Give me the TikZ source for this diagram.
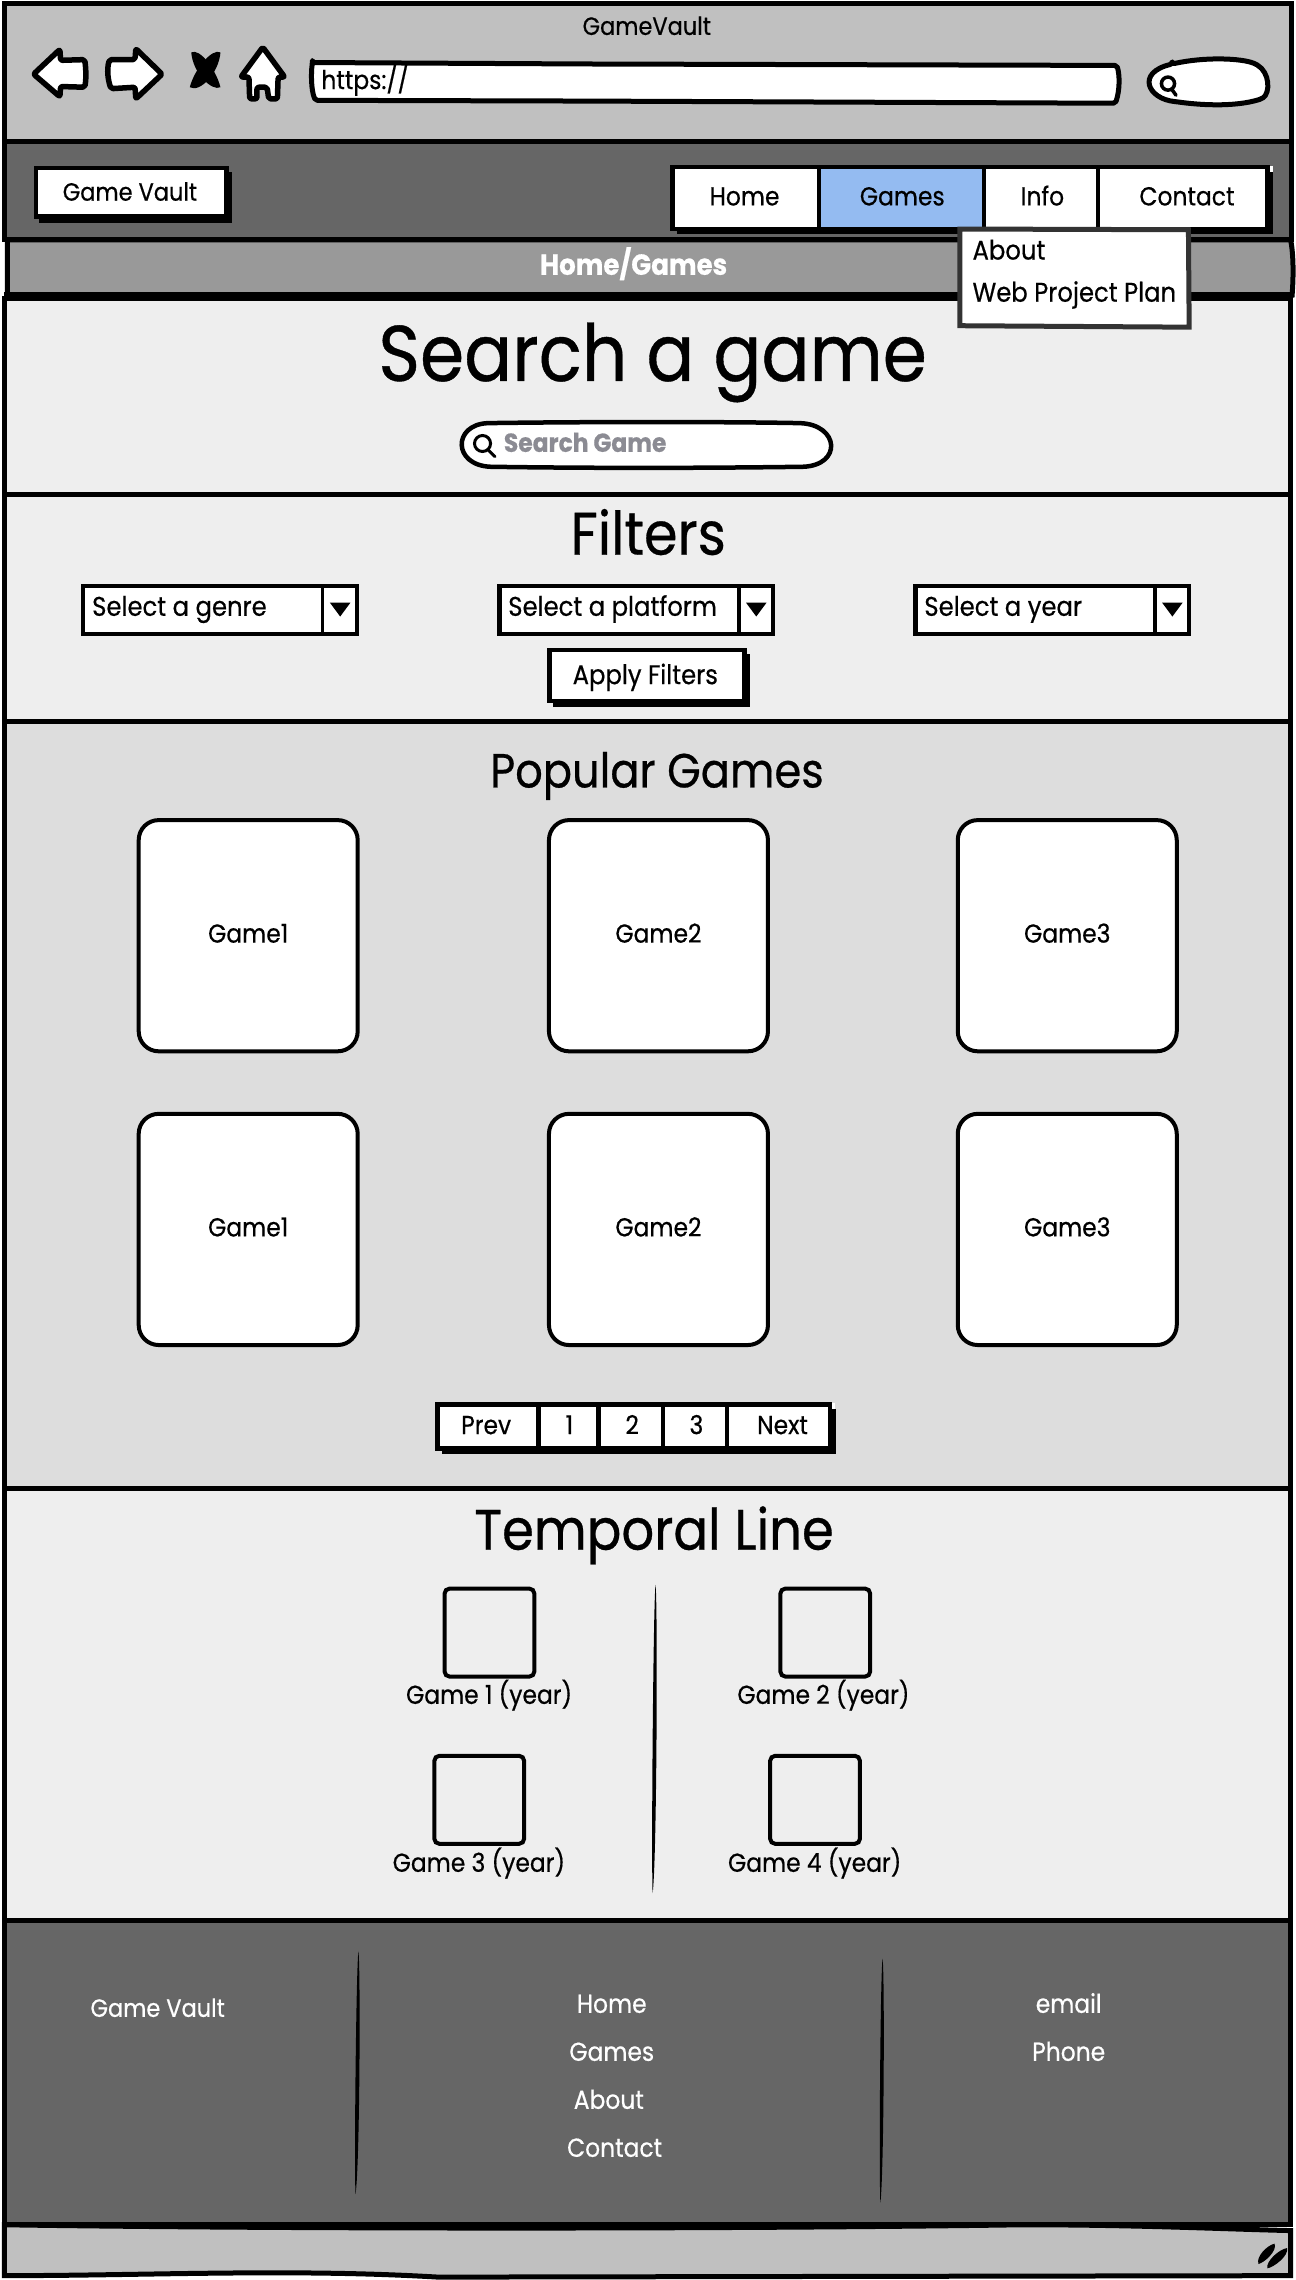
\documentclass[tikz,border=0pt]{standalone}
\usepackage{fontspec}
\setmainfont[FakeStretch=0.9,FakeBold=0.5]{Poppins}
\newcommand{\fsz}[1]{\fontsize{#1}{#1}\selectfont}
\definecolor{chrome}{HTML}{C0C0C0}
\definecolor{dark}{HTML}{666666}
\definecolor{crumb}{HTML}{999999}
\definecolor{pale}{HTML}{EEEEEE}
\definecolor{mid}{HTML}{DDDDDD}
\definecolor{sel}{HTML}{94BBF1}
\definecolor{ph}{HTML}{8B8B93}
\definecolor{menuedge}{HTML}{333333}
\tikzset{
  panel/.style={draw=black,line width=5pt},
  uibox/.style={draw=black,fill=white,line width=4.5pt},
  cardbox/.style={draw=black,fill=white,line width=4pt,rounded corners=20pt},
  thumb/.style={draw=black,fill=none,line width=4pt,rounded corners=5pt},
  ico/.style={draw=black,fill=white,line width=5.5pt,line join=round,rounded corners=2pt},
  size/.style={font=\fsz{#1},text height=0.7*#1 pt,text depth=0pt},
  txt/.style={inner sep=0pt,text=black,size=26},
  wtxt/.style={txt,text=white},
  lefttxt/.style={txt,anchor=west},
}
\begin{document}
\begin{tikzpicture}[x=1.46pt,y=-1.4541pt]
\useasboundingbox (0,0) rectangle (887,1568);
\fill[white] (0,0) rectangle (887,1568);
% panels
\path[panel,fill=chrome] (3,2.5) rectangle (884.5,97);
\path[panel,fill=dark] (3,97) rectangle (884.5,164.5);
\path[panel,fill=crumb] (5,165) -- (884,165) .. controls (886,175) and (886,190) .. (885,203) -- (5,203) -- cycle;
\path[panel,fill=pale] (3,205) rectangle (884,340);
\draw[black,line width=5.5pt] (3,203) -- (884,203);
\path[panel,fill=pale] (3,340) rectangle (884,496.5);
\path[panel,fill=mid] (3,496.5) rectangle (884,1023.5);
\path[panel,fill=pale] (3,1023.5) rectangle (884,1320.5);
\path[panel,fill=dark] (3,1320.5) rectangle (884,1530);
\path[panel,fill=chrome] (3,1530) .. controls (200,1533) and (500,1533) .. (700,1530) .. controls (780,1530) and (840,1533) .. (884,1534) -- (884,1565) -- (300,1566) .. controls (200,1560) and (100,1565) .. (3,1565) -- cycle;
\node[txt,size=25] (title) at (443,18) {GameVault};
% browser icons
\path[ico] (23,51) -- (41,34) -- (41.5,41.5) -- (58,41) .. controls (59,48) and (59,55) .. (58,60) -- (41.5,59.5) -- (41,66.5) -- cycle;
\path[ico] (111,51) -- (93,33.5) -- (92.5,41) -- (75,41) .. controls (73,48) and (74,55) .. (76,61) -- (92.5,60) -- (93,68) -- cycle;
\fill[black] (131,36) .. controls (137,33) and (148,48) .. (151,60) .. controls (145,63) and (132,50) .. (131,36) -- cycle;
\fill[black] (151,36) .. controls (145,33) and (133,48) .. (130,60) .. controls (137,64) and (150,50) .. (151,36) -- cycle;
\path[ico] (180,32.5) -- (165,53) -- (170.5,53) -- (171,68) -- (176,68) -- (176,60) -- (183,60) -- (184,68) -- (190,68) -- (190.5,53) -- (195,53) -- cycle;
\path[ico,line width=5pt] (214,43) -- (400,44) -- (765,45) .. controls (767,52) and (767,62) .. (764,71) -- (400,69.5) -- (216,69) .. controls (213,62) and (213,50) .. (214,43) -- cycle;
\node[lefttxt] (url) at (220,55) {https://};
\path[ico,line width=5pt] (803,44) .. controls (825,39) and (850,40) .. (860,44) .. controls (870,50) and (870,64) .. (864,68) .. controls (845,74) and (820,72) .. (806,70) .. controls (786,68) and (778,50) .. (803,44) -- cycle;
\draw[black,line width=3.5pt] (800,57.5) circle (4.5);
\draw[black,line width=3.5pt,line cap=round] (803,62) -- (805.5,65.5);
% logo
\fill[black] (27,118) rectangle (159,153.5);
\path[uibox] (24.5,115.5) rectangle (155,149);
\node[txt,size=25] (logo) at (89,132) {Game Vault};
% menu
\fill[black] (464,118) rectangle (872,161);
\fill[white] (869,114) rectangle (872,118);
\path[uibox] (460.5,115) rectangle (868,157.5);
\path[draw=black,fill=sel,line width=4pt] (561,115) rectangle (674,157.5);
\draw[black,line width=4pt] (752,115) -- (752,157.5);
\node[txt] (mhome) at (510,135) {Home};
\node[txt] (mgames) at (618,135) {Games};
\node[txt] (minfo) at (714,135) {Info};
\node[txt] (mcontact) at (813,135) {Contact};
\node[wtxt,size=29,font=\fsz{29}\bfseries] (crumbs) at (434,182) {Home/Games};
% dropdown
\path[draw=menuedge,fill=white,line width=5pt] (657.5,157.5) -- (814,158) -- (814.5,225) -- (657.5,224) -- cycle;
\node[lefttxt,size=27] (about) at (666,172) {About};
\node[lefttxt,size=27] (plan) at (666,201) {Web Project Plan};
% search
\node[txt,size=79] (h1) at (447,243) {Search a game};
\path[draw=black,fill=white,line width=4.5pt] (334,291) .. controls (400,290) and (500,290) .. (548,291) .. controls (575,292) and (577,320) .. (550,321) .. controls (480,322) and (400,322) .. (336,321) .. controls (310,320) and (310,292) .. (334,291) -- cycle;
\draw[black,line width=3pt] (330.5,305) circle (5.5);
\draw[black,line width=3pt,line cap=round] (334.5,309.5) -- (339,314);
\node[lefttxt,text=ph,size=26,font=\fsz{26}\bfseries] (sgame) at (345,304.5) {Search Game};
% filters
\node[txt,size=60] (h2) at (444,367) {Filters};
\path[uibox] (57,403) rectangle (244.5,436);
\draw[black,line width=3.5pt] (221,402) -- (221,436);
\fill[black] (226,414.5) -- (240,414.5) -- (233,424) -- cycle;
\node[lefttxt,size=27] (sel1) at (63,417) {Select a genre};
\path[uibox] (342,403) rectangle (529.5,436);
\draw[black,line width=3.5pt] (506,402) -- (506,436);
\fill[black] (511,414.5) -- (525,414.5) -- (518,424) -- cycle;
\node[lefttxt,size=27] (sel2) at (348,417) {Select a platform};
\path[uibox] (627,403) rectangle (814.5,436);
\draw[black,line width=3.5pt] (791,402) -- (791,436);
\fill[black] (796,414.5) -- (810,414.5) -- (803,424) -- cycle;
\node[lefttxt,size=27] (sel3) at (633,417) {Select a year};
\fill[black] (379,450) rectangle (514,486);
\path[uibox] (376.5,447) rectangle (510,482);
\node[txt,size=27] (apply) at (442,464) {Apply Filters};
% popular
\node[txt,size=48] (h3) at (450,530) {Popular Games};
\path[cardbox] (95,564) rectangle (245,723);
\path[cardbox] (376,564) rectangle (526,723);
\path[cardbox] (656,564) rectangle (806,723);
\path[cardbox] (95,766) rectangle (245,925);
\path[cardbox] (376,766) rectangle (526,925);
\path[cardbox] (656,766) rectangle (806,925);
\node[txt] (g1) at (170,642) {Game1};
\node[txt] (g2) at (451,642) {Game2};
\node[txt] (g3) at (731,642) {Game3};
\node[txt] (g4) at (170,844) {Game1};
\node[txt] (g5) at (451,844) {Game2};
\node[txt] (g6) at (731,844) {Game3};
% pagination
\fill[black] (303,969) rectangle (572.5,1000);
\fill[white] (569,965) rectangle (572,969);
\path[uibox] (299.5,966) rectangle (568.5,996);
\foreach \dx in {369,410,454,498} \draw[black,line width=4.5pt] (\dx,966) -- (\dx,996);
\node[txt] (prev) at (333,980) {Prev};
\node[txt] (p1) at (390,980) {1};
\node[txt] (p2) at (433,980) {2};
\node[txt] (p3) at (477,980) {3};
\node[txt] (next) at (536,980) {Next};
% temporal
\node[txt,size=57] (h4) at (448,1052) {Temporal Line};
\path[thumb] (304.5,1092.5) rectangle (366,1153);
\path[thumb] (534.5,1092.5) rectangle (596,1153);
\path[thumb] (297.5,1207.5) rectangle (359,1268);
\path[thumb] (527.5,1207.5) rectangle (589,1268);
\node[txt] (t1) at (335,1165.5) {Game 1 (year)};
\node[txt] (t2) at (564,1165.5) {Game 2 (year)};
\node[txt] (t3) at (328,1281) {Game 3 (year)};
\node[txt] (t4) at (558,1281) {Game 4 (year)};
\fill[black] (449,1090) .. controls (450.5,1100) and (450,1280) .. (447,1302) .. controls (446,1280) and (447.5,1100) .. (449,1090) -- cycle;
% footer
\node[wtxt,size=25] (f0) at (108,1381) {Game Vault};
\fill[black] (245.5,1342) .. controls (247,1352) and (246.5,1490) .. (243.5,1509) .. controls (242.5,1490) and (244,1352) .. (245.5,1342) -- cycle;
\node[wtxt] (f1) at (419,1378) {Home};
\node[wtxt] (f2) at (419,1411) {Games};
\node[wtxt] (f3) at (417,1444) {About};
\node[wtxt] (f4) at (421,1477) {Contact};
\fill[black] (604.5,1347) .. controls (606,1357) and (605.5,1495) .. (603,1515) .. controls (602,1495) and (603,1357) .. (604.5,1347) -- cycle;
\node[wtxt] (f5) at (732,1378) {email};
\node[wtxt] (f6) at (732,1411) {Phone};
% resize grip
\fill[black] (873,1543) .. controls (875,1548) and (866,1556) .. (862,1557) .. controls (860,1552) and (868,1544) .. (873,1543) -- cycle;
\fill[black] (881.5,1546) .. controls (883,1551) and (873,1559) .. (868,1560) .. controls (867,1555) and (876,1547) .. (881.5,1546) -- cycle;
\end{tikzpicture}
\end{document}
